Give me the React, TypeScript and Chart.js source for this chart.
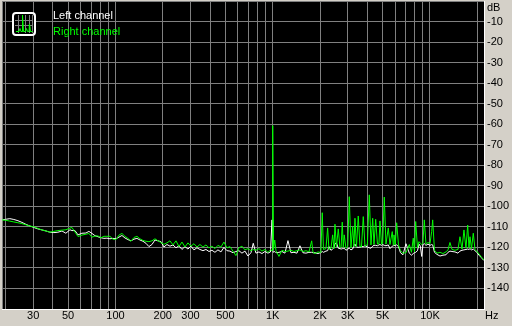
import React, { useEffect, useRef } from 'react';
import { Chart, registerables } from 'chart.js';

Chart.register(...registerables);

// Frequency bins (Hz)
const FREQ_HZ = [
  19, 20.1, 21.3, 22.6, 24.0, 25.4, 27.0, 28.6, 30.3, 32.2,
  34.1, 36.2, 38.3, 40.6, 43.1, 45.7, 48.4, 51.4, 52.9, 55.3,
  57.8, 61.2, 64.9, 67.8, 70.9, 74.1, 77.4, 80.9, 84.5, 88.3,
  92.3, 96.4, 100.7, 105.3, 110.0, 114.9, 120.1, 125.5, 131.1, 137.0,
  143.2, 149.6, 156.3, 163.3, 170.7, 178.4, 186.4, 194.7, 203.5, 212.6,
  222.2, 232.1, 242.6, 253.5, 264.8, 276.7, 289.1, 302.1, 315.6, 329.8,
  344.6, 360.1, 376.3, 393.2, 410.8, 429.3, 448.5, 468.7, 489.7, 511.7,
  534.7, 558.7, 583.8, 610.0, 637.4, 666.0, 695.9, 727.2, 752.1, 782.6,
  817.7, 854.4, 892.7, 932.7, 967.7, 990, 1000, 1012, 1030, 1048.7,
  1095.8, 1145, 1196, 1250, 1306, 1365, 1426, 1490, 1557, 1627,
  1701, 1769, 1803, 1857, 1940, 2000, 2027, 2065, 2102, 2180,
  2235, 2278, 2346, 2405, 2451, 2488, 2543, 2611, 2677, 2724,
  2768, 2809, 2850, 2923, 3000, 3067, 3144, 3223, 3285, 3334,
  3408, 3499, 3587, 3667, 3765, 3860, 4000, 4111, 4215, 4321,
  4404, 4515, 4635, 4738, 4808, 4915, 5000, 5121, 5250, 5430,
  5566, 5757, 5843, 5902, 6016, 6140, 6304, 6491, 6734, 7036,
  7385, 7626, 7830, 7968, 8110, 8326, 8511, 8687, 8854, 9024,
  9198, 9430, 9710, 10000, 10250, 10401, 10679, 11077, 11574, 12094,
  12637, 13012, 13399, 13797, 14417, 15065, 15512, 15973, 16448, 16936,
  17363, 17698, 17960, 18359, 18849, 19324, 20000, 20489, 21098, 21566,
  22050,
];

// Left channel level (dB)
const LEFT_DB = [
  -106.6, -106.3, -106.0, -106.4, -107.0, -107.8, -108.8, -109.6, -110.3, -111.0,
  -111.5, -112.0, -112.6, -112.8, -112.6, -112.0, -113.1, -111.4, -111.8, -111.8,
  -113.9, -113.1, -113.0, -112.2, -113.2, -114.3, -114.8, -115.3, -115.6, -115.5,
  -115.8, -115.6, -115.8, -115.0, -114.2, -115.4, -116.2, -116.8, -116.0, -115.6,
  -116.4, -117.0, -118.0, -119.6, -118.6, -116.4, -116.8, -117.2, -119.8, -118.6,
  -119.4, -118.8, -120.2, -119.2, -121.0, -119.6, -120.8, -119.4, -121.2, -120.2,
  -121.0, -121.6, -121.0, -122.0, -121.4, -122.4, -121.2, -122.2, -120.0, -121.6,
  -121.8, -122.6, -122.0, -121.6, -122.8, -121.8, -124.2, -122.6, -118.0, -122.8,
  -122.2, -123.0, -122.0, -122.8, -122.2, -106.6, -121.5, -122.4, -122.0, -122.6,
  -122.4, -122.0, -122.8, -116.7, -122.6, -122.4, -122.8, -119.2, -122.6, -122.8,
  -122.4, -122.4, -122.6, -122.6, -123.0, -122.6, -122.4, -122.0, -122.4, -121.8,
  -121.6, -119.6, -121.4, -120.8, -120.2, -118.2, -117.8, -120.4, -120.6, -120.8,
  -120.6, -120.6, -120.4, -121.4, -120.8, -120.4, -121.2, -120.8, -119.2, -118.4,
  -119.8, -120.0, -119.8, -119.6, -119.6, -119.2, -119.8, -120.2, -120.4, -119.4,
  -119.0, -119.0, -119.2, -118.8, -118.6, -119.0, -118.6, -119.0, -119.2, -118.8,
  -120.6, -119.4, -119.2, -119.0, -119.0, -118.8, -119.6, -122.6, -123.6, -118.2,
  -122.8, -123.8, -123.0, -122.6, -122.4, -121.6, -118.4, -119.4, -124.4, -118.6,
  -118.2, -119.0, -118.4, -119.0, -118.6, -118.8, -122.4, -123.4, -124.2, -123.8,
  -123.6, -122.4, -121.8, -122.0, -122.2, -122.8, -121.8, -121.4, -121.2, -121.0,
  -120.8, -121.0, -120.6, -121.2, -120.8, -121.6, -122.6, -123.8, -124.8, -125.6,
  -126.4,
];

// Right channel level (dB)
const RIGHT_DB = [
  -106.6, -106.8, -107.2, -107.6, -108.0, -108.4, -109.0, -109.6, -110.0, -110.8,
  -111.5, -112.0, -112.6, -112.2, -111.8, -111.6, -111.4, -110.6, -110.3, -112.5,
  -114.7, -114.0, -113.6, -113.2, -115.0, -114.5, -114.4, -115.3, -114.6, -114.6,
  -114.6, -116.0, -116.2, -114.0, -113.2, -114.6, -115.6, -117.0, -115.2, -114.6,
  -115.8, -116.6, -117.0, -117.2, -116.8, -115.8, -116.8, -117.6, -118.5, -117.8,
  -116.8, -118.8, -116.8, -119.6, -117.4, -119.8, -117.8, -119.4, -118.2, -119.8,
  -118.6, -119.8, -118.8, -120.2, -119.4, -120.6, -119.0, -119.8, -117.4, -120.2,
  -119.6, -121.8, -124.0, -120.2, -119.4, -121.2, -120.6, -121.6, -121.0, -121.4,
  -120.6, -121.8, -121.0, -122.4, -121.2, -121.6, -60.7, -121.0, -116.4, -121.6,
  -124.4, -121.4, -122.0, -121.8, -121.4, -122.0, -121.6, -121.2, -122.0, -121.6,
  -122.2, -116.8, -122.4, -123.0, -122.2, -122.4, -121.4, -103.1, -121.0, -120.6,
  -110.5, -121.0, -120.4, -113.9, -120.6, -108.7, -119.8, -111.0, -120.2, -119.6,
  -107.7, -120.0, -113.9, -120.4, -119.6, -95.3, -120.2, -109.9, -119.6, -105.8,
  -119.8, -104.7, -119.4, -119.8, -105.0, -119.4, -118.6, -94.4, -118.8, -105.8,
  -118.6, -106.3, -118.4, -118.2, -107.1, -118.4, -118.2, -95.5, -118.4, -110.5,
  -118.6, -112.3, -118.8, -113.9, -118.6, -108.0, -118.8, -121.6, -122.8, -122.6,
  -118.6, -122.4, -115.5, -122.2, -107.4, -120.2, -117.2, -118.0, -118.6, -117.8,
  -106.6, -118.4, -117.6, -118.2, -112.3, -106.6, -121.4, -122.8, -122.4, -123.0,
  -122.2, -121.2, -117.6, -121.0, -121.4, -121.0, -114.8, -120.8, -111.5, -120.4,
  -109.1, -120.2, -114.8, -120.6, -113.1, -121.0, -122.2, -123.2, -124.4, -125.4,
  -126.0,
];

const SERIES_NAMES = ['Left channel', 'Right channel'];
const X_MIN_HZ = 19;
const X_MAX_HZ = 22050;
const X_GRID_HZ = [
  19, 20, 30, 40, 50, 60, 70, 80, 90,
  100, 200, 300, 400, 500, 600, 700, 800, 900,
  1000, 2000, 3000, 4000, 5000, 6000, 7000, 8000, 9000,
  10000, 20000,
];
const X_TICK_LABELS: Record<string, string> = {
  '30': '30', '50': '50', '100': '100', '200': '200', '300': '300', '500': '500',
  '1000': '1K', '2000': '2K', '3000': '3K', '5000': '5K', '10000': '10K',
};
const Y_MIN_DB = -150;
const Y_MAX_DB = 0;
const Y_UNIT = 'dB';
const X_UNIT = 'Hz';

const FONT = '"Liberation Sans", Arial, sans-serif';

const decorPlugin = {
  id: 'decor',
  beforeDraw(chart: any) {
    const { ctx, chartArea: a, width, height } = chart;
    ctx.save();
    ctx.fillStyle = '#d4d0c8';
    ctx.fillRect(0, 0, width, height);
    ctx.fillStyle = '#000000';
    ctx.fillRect(a.left, a.top, a.right - a.left, a.bottom - a.top);
    ctx.restore();
  },
  afterDraw(chart: any) {
    const { ctx, chartArea: a } = chart;
    ctx.save();
    // legend icon
    ctx.fillStyle = '#000000';
    ctx.beginPath();
    ctx.roundRect(14, 14, 20, 20, 3);
    ctx.fill();
    ctx.strokeStyle = '#808080';
    ctx.lineWidth = 1;
    ctx.beginPath();
    for (const gx of [18.5, 25.5, 29.5, 32.5]) {
      ctx.moveTo(gx, 15);
      ctx.lineTo(gx, 33);
    }
    for (const gy of [20.5, 25.5]) {
      ctx.moveTo(15, gy);
      ctx.lineTo(33, gy);
    }
    ctx.stroke();
    ctx.strokeStyle = '#00ff00';
    ctx.beginPath();
    ctx.moveTo(16, 31.5);
    ctx.lineTo(19, 31.5);
    ctx.lineTo(20, 28.5);
    ctx.lineTo(21, 31.5);
    ctx.lineTo(22.5, 31.5);
    ctx.lineTo(22.5, 15);
    ctx.lineTo(23.5, 31.5);
    ctx.lineTo(25.5, 31.5);
    ctx.lineTo(26.5, 28.5);
    ctx.lineTo(27.5, 31.5);
    ctx.lineTo(29, 31.5);
    ctx.lineTo(29.5, 24);
    ctx.lineTo(30.5, 31.5);
    ctx.lineTo(32.5, 31.5);
    ctx.stroke();
    ctx.strokeStyle = '#ffffff';
    ctx.lineWidth = 2;
    ctx.beginPath();
    ctx.roundRect(13, 13, 22, 22, 3);
    ctx.stroke();

    // legend labels
    ctx.font = `11px ${FONT}`;
    ctx.textAlign = 'left';
    ctx.textBaseline = 'alphabetic';
    ctx.fillStyle = '#ffffff';
    ctx.fillText(SERIES_NAMES[0], 53, 19);
    ctx.fillStyle = '#00ff00';
    ctx.fillText(SERIES_NAMES[1], 53, 35);

    // unit labels
    ctx.fillStyle = '#000000';
    ctx.fillText(Y_UNIT, a.right + 3, 11);
    ctx.fillText(X_UNIT, a.right + 1, 319);
    ctx.restore();
  },
};

export default function App() {
  const canvasRef = useRef<HTMLCanvasElement | null>(null);

  useEffect(() => {
    const canvas = canvasRef.current;
    if (!canvas) return;
    const chart = new Chart(canvas, {
      type: 'line',
      data: {
        datasets: [
          {
            label: SERIES_NAMES[1],
            data: FREQ_HZ.map((f, i) => ({ x: f, y: RIGHT_DB[i] })),
            borderColor: '#00ff00',
            borderWidth: 1,
            pointRadius: 0,
            tension: 0,
            fill: false,
            order: 0,
          },
          {
            label: SERIES_NAMES[0],
            data: FREQ_HZ.map((f, i) => ({ x: f, y: LEFT_DB[i] })),
            borderColor: '#ffffff',
            borderWidth: 1,
            pointRadius: 0,
            tension: 0,
            fill: false,
            order: 1,
          },
        ],
      },
      options: {
        animation: false,
        responsive: false,
        maintainAspectRatio: false,
        devicePixelRatio: 1,
        layout: { padding: { left: 2, top: 1, right: 0, bottom: 0 } },
        plugins: {
          legend: { display: false },
          tooltip: { enabled: false },
        },
        scales: {
          x: {
            type: 'logarithmic',
            position: 'bottom',
            min: X_MIN_HZ,
            max: X_MAX_HZ,
            afterBuildTicks: (axis: any) => {
              axis.ticks = X_GRID_HZ.map((v) => ({ value: v }));
            },
            afterFit: (axis: any) => {
              axis.height = 17;
              axis.paddingLeft = 0;
              axis.paddingRight = 0;
            },
            grid: { color: '#808080', lineWidth: 1, drawTicks: false },
            border: { color: '#ffffff', width: 1 },
            ticks: {
              autoSkip: false,
              maxRotation: 0,
              minRotation: 0,
              padding: 0,
              color: '#000000',
              font: { family: FONT, size: 11 },
              callback: (v: any) => X_TICK_LABELS[String(v)] ?? '',
            },
          },
          y: {
            type: 'linear',
            position: 'right',
            min: Y_MIN_DB,
            max: Y_MAX_DB,
            afterFit: (axis: any) => {
              axis.width = 28;
              axis.paddingTop = 0;
              axis.paddingBottom = 0;
            },
            grid: { color: '#808080', lineWidth: 1, drawTicks: false },
            border: { color: '#ffffff', width: 1 },
            ticks: {
              stepSize: 10,
              padding: 3,
              crossAlign: 'near',
              color: '#000000',
              font: { family: FONT, size: 11 },
              callback: (v: any) => (v === Y_MAX_DB || v === Y_MIN_DB ? '' : String(v)),
            },
          },
        },
      },
      plugins: [decorPlugin],
    } as any);
    return () => chart.destroy();
  }, []);

  return (
    <div style={{ position: 'fixed', left: 0, top: 0, width: 512, height: 326 }}>
      <canvas ref={canvasRef} width={512} height={326} style={{ display: 'block' }} />
    </div>
  );
}
